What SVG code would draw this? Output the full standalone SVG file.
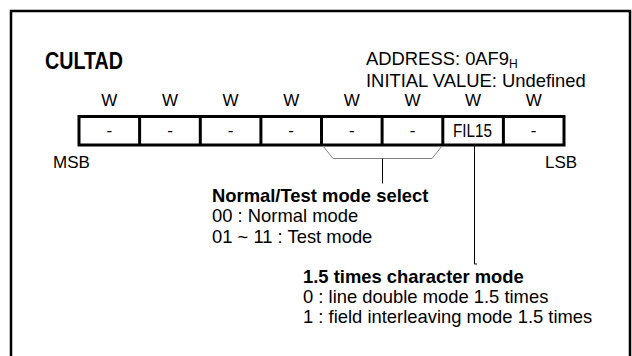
<svg xmlns="http://www.w3.org/2000/svg" width="632" height="356" viewBox="0 0 632 356">
<style>
text{font-family:"Liberation Sans",Arial,sans-serif;fill:#000}
.t{font-size:18.4px}
.b{font-size:18.4px;font-weight:bold}
.w{font-size:17px;text-anchor:middle}
.c{font-size:17px;text-anchor:middle}
.cell{fill:#fff;stroke:#000;stroke-width:3}
.thin{fill:none;stroke:#000;stroke-width:1}
.gray{fill:none;stroke:#808080;stroke-width:1}
</style>
<rect width="632" height="356" fill="#fff"/>
<path d="M11,356 V11 H630 V356" fill="none" stroke="#000" stroke-width="2.5"/>
<g id="title">
<text x="45" y="69" font-size="24" font-weight="bold" textLength="78" lengthAdjust="spacingAndGlyphs">CULTAD</text>
<text class="t" x="366" y="65">ADDRESS: 0AF9<tspan font-size="12" dy="3">H</tspan></text>
<text class="t" x="366" y="87">INITIAL VALUE: Undefined</text>
</g>
<g id="rw">
<text class="w" x="109.3" y="106">W</text>
<text class="w" x="170" y="106">W</text>
<text class="w" x="230.6" y="106">W</text>
<text class="w" x="291.2" y="106">W</text>
<text class="w" x="351.8" y="106">W</text>
<text class="w" x="412.5" y="106">W</text>
<text class="w" x="473.1" y="106">W</text>
<text class="w" x="533.7" y="106">W</text>
</g>
<g id="register">
<rect class="cell" x="79" y="116.5" width="485" height="28.5"/>
<path d="M139.6,116.5V145 M200.3,116.5V145 M260.9,116.5V145 M321.5,116.5V145 M382.1,116.5V145 M442.8,116.5V145 M503.4,116.5V145" stroke="#000" stroke-width="3"/>
<text class="c" x="109.3" y="136">-</text>
<text class="c" x="170" y="136">-</text>
<text class="c" x="230.6" y="136">-</text>
<text class="c" x="291.2" y="136">-</text>
<text class="c" x="351.8" y="136">-</text>
<text class="c" x="412.5" y="136">-</text>
<text x="453" y="137" font-size="18" textLength="39" lengthAdjust="spacingAndGlyphs">FIL15</text>
<text class="c" x="533.7" y="136">-</text>
</g>
<g id="msb"><text x="53" y="168" font-size="17">MSB</text></g>
<g id="lsb"><text x="545" y="168" font-size="17">LSB</text></g>
<g id="connectors">
<polyline class="gray" points="323,146 333,158.5 432,158.5 442,146"/>
<line class="thin" x1="382.5" y1="158.5" x2="382.5" y2="183.5"/>
<polyline class="thin" points="474.5,146 474.5,264 477,264"/>
</g>
<g id="mode-select">
<text class="b" x="212" y="201.5">Normal/Test mode select</text>
<text class="t" x="212" y="222">00 : Normal mode</text>
<text class="t" x="212" y="242.5">01 ~ 11 : Test mode</text>
</g>
<g id="char-mode">
<text class="b" x="303" y="283">1.5 times character mode</text>
<text class="t" x="303" y="303">0 : line double mode 1.5 times</text>
<text class="t" x="303" y="323">1 : field interleaving mode 1.5 times</text>
</g>
</svg>
